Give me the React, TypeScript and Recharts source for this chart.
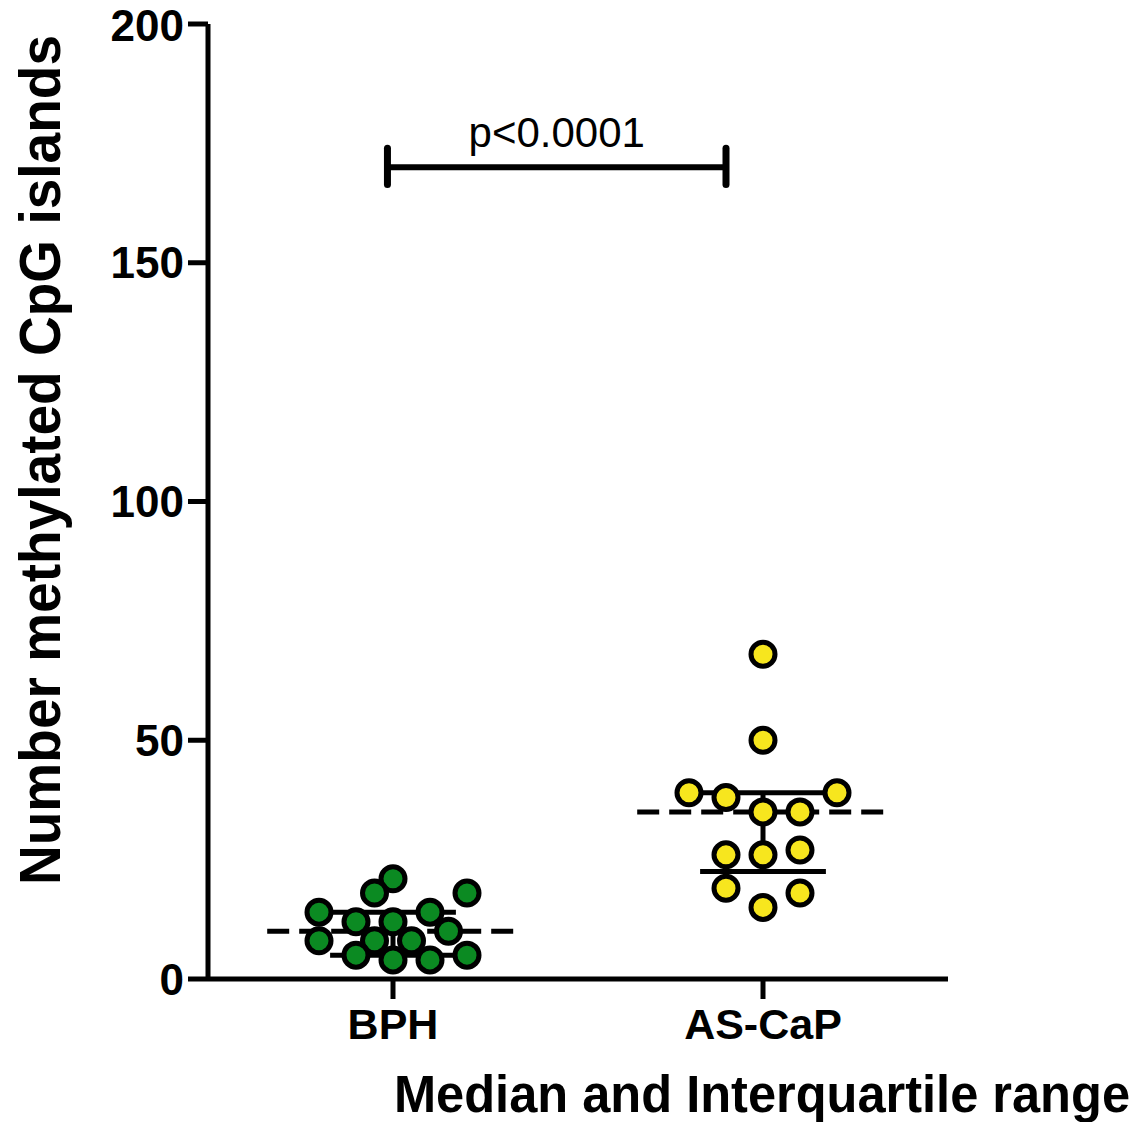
import React from 'react';
import {
  ScatterChart,
  Scatter,
  XAxis,
  YAxis,
  ReferenceLine,
} from 'recharts';

const categories = ['BPH', 'AS-CaP'];
const yTicks = [0, 50, 100, 150, 200];

// values, slot = horizontal jitter column of each dot
const bphValues = [21, 18, 18, 14, 14, 12, 12, 10, 8, 8, 8, 5, 5, 4, 4];
const bphSlots = [0, -1, 4, -4, 2, -2, 0, 3, -4, -1, 1, -2, 4, 0, 2];
const ascapValues = [68, 50, 39, 38, 39, 35, 35, 26, 26, 27, 19, 18, 15];
const ascapSlots = [0, 0, -4, -2, 4, 0, 2, -2, 0, 2, -2, 2, 0];

const pValueText = 'p<0.0001';
const bracketY = 170;
const bracketFrom = 0.485;
const bracketTo = 1.4;

const SLOT = 0.05;
const FONT = "'Liberation Sans', Arial, sans-serif";

// GraphPad style percentile: position (n + 1) * p
const quantile = (vals: number[], p: number) => {
  const s = [...vals].sort((a, b) => a - b);
  const pos = (s.length + 1) * p - 1;
  const lo = Math.floor(pos);
  const hi = Math.ceil(pos);
  return s[lo] + (s[hi] - s[lo]) * (pos - lo);
};

const groups = [
  { name: categories[0], values: bphValues, slots: bphSlots, fill: '#0b8a22' },
  { name: categories[1], values: ascapValues, slots: ascapSlots, fill: '#f7e61e' },
].map((g, i) => {
  const center = i + 0.5;
  return {
    ...g,
    center,
    points: g.values.map((v, k) => ({ x: center + g.slots[k] * SLOT, y: v })),
    q1: quantile(g.values, 0.25),
    med: quantile(g.values, 0.5),
    q3: quantile(g.values, 0.75),
  };
});

const dot = (fill: string) => (props: any) => (
  <circle cx={props.cx} cy={props.cy} r={12} fill={fill} stroke="#000" strokeWidth={5} />
);

const yTitle = () => (
  <text
    x={60}
    y={460}
    transform="rotate(-90, 60, 460)"
    textAnchor="middle"
    fontFamily={FONT}
    fontWeight="bold"
    fontSize={57}
    textLength={850}
    lengthAdjust="spacingAndGlyphs"
    fill="#000"
  >
    Number methylated CpG islands
  </text>
);

const xTitle = () => (
  <text
    x={394}
    y={1112}
    fontFamily={FONT}
    fontWeight="bold"
    fontSize={51}
    textLength={736}
    lengthAdjust="spacingAndGlyphs"
    fill="#000"
  >
    Median and Interquartile range
  </text>
);

const App: React.FC = () => {
  return (
    <div style={{ position: 'absolute', left: 0, top: 0, background: '#fff' }}>
      <ScatterChart
        width={1142}
        height={1122}
        margin={{ top: 24, right: 194, bottom: 83, left: 0 }}
      >
        <XAxis
          type="number"
          dataKey="x"
          domain={[0, 2]}
          ticks={[0.5, 1.5]}
          tickFormatter={(v: number) => categories[Math.floor(v)]}
          height={60}
          tickSize={20}
          tickMargin={9}
          axisLine={{ stroke: '#000', strokeWidth: 5 }}
          tickLine={{ stroke: '#000', strokeWidth: 5 }}
          tick={{ fill: '#000', fontSize: 43, fontWeight: 'bold', fontFamily: FONT }}
          label={xTitle}
        />
        <YAxis
          type="number"
          dataKey="y"
          domain={[0, 200]}
          ticks={yTicks}
          width={208}
          tickSize={20}
          tickMargin={4}
          axisLine={{ stroke: '#000', strokeWidth: 5 }}
          tickLine={{ stroke: '#000', strokeWidth: 5 }}
          tick={{ fill: '#000', fontSize: 44, fontWeight: 'bold', fontFamily: FONT }}
          label={yTitle}
        />

        {groups.map((g) => (
          <Scatter
            key={g.name}
            name={g.name}
            data={g.points}
            shape={dot(g.fill)}
            isAnimationActive={false}
          />
        ))}

        {groups.map((g) => (
          <React.Fragment key={g.name + '-stats'}>
            <ReferenceLine
              segment={[{ x: g.center - 0.17, y: g.q3 }, { x: g.center + 0.17, y: g.q3 }]}
              stroke="#000"
              strokeWidth={5}
            />
            <ReferenceLine
              segment={[{ x: g.center - 0.17, y: g.q1 }, { x: g.center + 0.17, y: g.q1 }]}
              stroke="#000"
              strokeWidth={5}
            />
            <ReferenceLine
              segment={[{ x: g.center, y: g.q1 }, { x: g.center, y: g.q3 }]}
              stroke="#000"
              strokeWidth={5}
            />
            <ReferenceLine
              segment={[{ x: g.center - 0.34, y: g.med }, { x: g.center + 0.34, y: g.med }]}
              stroke="#000"
              strokeWidth={5}
              strokeDasharray="22 10"
            />
          </React.Fragment>
        ))}

        {/* significance bracket */}
        <ReferenceLine
          segment={[{ x: bracketFrom, y: bracketY }, { x: bracketTo, y: bracketY }]}
          stroke="#000"
          strokeWidth={6}
          label={{
            value: pValueText,
            position: 'top',
            offset: 20,
            fill: '#000',
            fontSize: 42,
            fontFamily: FONT,
          }}
        />
        <ReferenceLine
          segment={[{ x: bracketFrom, y: bracketY - 3.6 }, { x: bracketFrom, y: bracketY + 4 }]}
          stroke="#000"
          strokeWidth={7}
          strokeLinecap="round"
        />
        <ReferenceLine
          segment={[{ x: bracketTo, y: bracketY - 3.6 }, { x: bracketTo, y: bracketY + 4 }]}
          stroke="#000"
          strokeWidth={7}
          strokeLinecap="round"
        />
      </ScatterChart>
    </div>
  );
};

export default App;
